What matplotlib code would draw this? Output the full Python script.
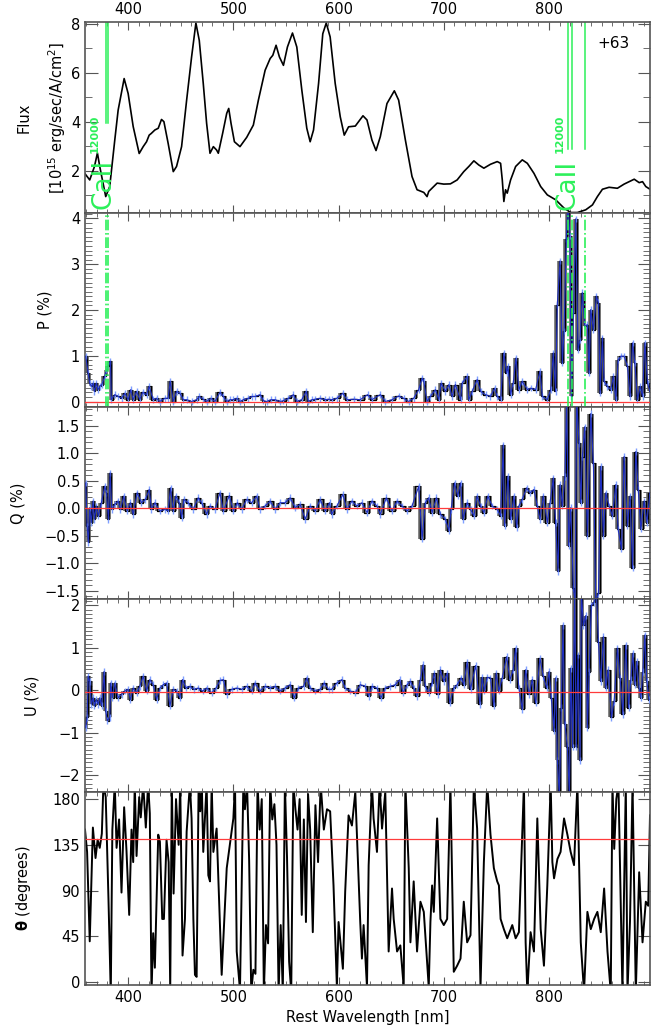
import matplotlib
matplotlib.use("Agg")
import matplotlib.pyplot as plt
import numpy as np
from matplotlib.ticker import MultipleLocator, FuncFormatter

plt.rcParams['font.family'] = ['DejaVu Sans']
plt.rcParams['mathtext.fontset'] = 'dejavusans'

# ---- data ----
flux_wl = [358.7, 363.5, 368, 370.8, 373, 378.7, 382.5, 387.3, 390.5, 396.2, 400, 404.8, 410.5, 414.3,
           417.5, 420, 422, 425.4, 428.6, 431.7, 434, 438, 442.9, 446, 450.8, 455.6, 460.3, 464.4, 467.6,
           471.4, 474.6, 477.8, 481, 484.1, 485.7, 489.8, 493.7, 495.6, 497.8, 501, 506.3, 512.7, 519,
           523.8, 530.2, 535, 537.5, 540.6, 543.8, 547.6, 551.4, 556.2, 560.3, 565.1, 569.8, 573, 576.2,
           581, 585, 588.3, 592, 596.8, 601.6, 605.4, 609.5, 615.9, 623.2, 627, 631.7, 635.6, 639.7, 646,
           653, 657.1, 663.5, 669.8, 674.6, 681, 684.1, 685.7, 693.7, 700, 706.3, 712.7, 719, 723.8, 728.6,
           733.3, 738.1, 744.4, 750.8, 754, 755.6, 757.1, 758.7, 760.3, 763.5, 768.3, 774.6, 779.4, 785.7,
           792.1, 798.4, 806.3, 814.3, 820.6, 827, 834.9, 841.3, 846, 850.8, 857.1, 865, 871.4, 876.2, 881,
           885.7, 888.9, 892, 896]
flux_val = [1.89, 1.62, 2.17, 2.72, 2.17, 0.94, 1.35, 3.25, 4.47, 5.76, 5.15, 3.8, 2.7, 2.98, 3.18, 3.45,
            3.52, 3.66, 3.73, 4.09, 4.0, 3.12, 1.96, 2.17, 2.98, 4.88, 6.64, 8.03, 7.32, 5.56, 3.93, 2.71,
            2.98, 2.84, 2.71, 3.52, 4.34, 4.54, 3.93, 3.18, 2.98, 3.36, 3.86, 4.88, 6.1, 6.58, 6.71, 7.12,
            6.64, 6.3, 7.05, 7.62, 7.05, 5.28, 3.73, 3.18, 3.66, 5.56, 7.59, 8.03, 7.46, 5.56, 4.2, 3.45,
            3.79, 3.82, 4.24, 4.07, 3.25, 2.82, 3.39, 4.74, 5.26, 4.88, 3.25, 1.76, 1.22, 1.11, 0.94, 1.15,
            1.49, 1.45, 1.46, 1.62, 1.96, 2.17, 2.4, 2.23, 2.1, 2.26, 2.37, 2.3, 1.62, 0.74, 1.22, 1.08,
            1.62, 2.17, 2.44, 2.3, 1.89, 1.35, 1.01, 0.81, 0.47, 0.29, 0.29, 0.4, 0.6, 0.94, 1.24, 1.32,
            1.28, 1.45, 1.55, 1.65, 1.51, 1.55, 1.35, 1.24]

p_wl = [359.7, 362, 363.5, 365, 366.7, 368, 369.8, 371.4, 373, 375, 377.8, 379.4, 381, 383.2, 384, 387.3,
        390.5, 393.7, 396.8, 400, 402.5, 404.8, 408, 411, 413.7, 417.5, 420, 423.8, 427, 430, 435, 438,
        440, 442.9, 446, 449.2, 452.4, 455.6, 460.3, 465, 467.6, 471.4, 474.6, 478.4, 482.5, 487.3, 490.5,
        493.7, 496.8, 500, 503.2, 506.3, 509.5, 514.3, 517.5, 520.6, 525.4, 528.6, 531.7, 535.6, 539.7,
        544.4, 547.6, 552.4, 557.1, 560.3, 565, 569.2, 571.4, 574.6, 577.8, 582.5, 587.3, 590.5, 593.5,
        598.4, 604.1, 607.9, 614.3, 620.6, 627.6, 631.7, 639.7, 644.4, 650.8, 657.1, 661.9, 666.7, 671.4,
        676.2, 679.4, 681, 684.1, 687.3, 692, 695.2, 697.5, 701.6, 704.8, 708, 711, 715.9, 717.5, 722.2,
        723.8, 727, 731.7, 735, 739.7, 744.4, 748.3, 750.8, 754, 757.1, 759.7, 761, 763.5, 766, 768.6,
        771.4, 774.6, 779.4, 782.5, 787.3, 791.4, 793.7, 798.4, 801.6, 804.1, 806.3, 807.9, 810.5, 812.7,
        814.3, 816.5, 818.1, 819.8, 821.3, 823.2, 825.4, 827.6, 829.5, 831.7, 834, 836.5, 838.1, 839.7,
        842.2, 845.1, 847, 848.6, 850.8, 852.4, 855.6, 858.7, 861.3, 863.5, 865.7, 868.3, 871.4, 874.6,
        877.1, 879.4, 881.6, 884.1, 886.7, 888.9, 891.1, 893.7, 896]
p_val = [0.99, 0.62, 0.4, 0.33, 0.4, 0.22, 0.4, 0.26, 0.33, 0.37, 0.55, 0.69, 0.77, 0.88, 0.04, 0.15,
         0.11, 0.07, 0.18, 0.04, 0.26, 0.04, 0.22, 0.04, 0.2, 0.15, 0.33, 0.04, 0.07, 0.0, 0.07, 0.07,
         0.44, 0.0, 0.22, 0.18, 0.04, 0.04, 0.0, 0.04, 0.11, 0.05, 0.0, 0.07, 0.0, 0.2, 0.11, 0.0, 0.04,
         0.04, 0.07, 0.0, 0.04, 0.07, 0.11, 0.11, 0.15, 0.02, 0.0, 0.04, 0.04, 0.0, 0.02, 0.07, 0.15, 0.0,
         0.04, 0.22, 0.0, 0.04, 0.05, 0.07, 0.04, 0.05, 0.04, 0.07, 0.18, 0.04, 0.05, 0.04, 0.15, 0.04,
         0.15, 0.0, 0.04, 0.12, 0.07, 0.0, 0.07, 0.26, 0.51, 0.44, 0.0, 0.11, 0.26, 0.04, 0.4, 0.22, 0.37,
         0.11, 0.37, 0.04, 0.4, 0.55, 0.04, 0.22, 0.48, 0.22, 0.15, 0.11, 0.29, 0.11, 0.04, 1.06, 0.62,
         0.77, 0.15, 0.4, 0.95, 0.26, 0.44, 0.26, 0.29, 0.26, 0.66, 0.11, 0.04, 0.26, 1.06, 0.22, 2.12,
         3.07, 0.84, 1.54, 3.55, 4.4, 3.62, 0.11, 1.94, 3.99, 1.13, 1.35, 2.38, 1.65, 1.68, 0.62, 2.01,
         1.57, 2.3, 2.16, 0.18, 1.39, 0.44, 0.33, 0.26, 0.55, 0.04, 0.91, 0.99, 0.99, 0.77, 0.11, 1.28,
         0.84, 0.04, 0.33, 0.11, 1.28, 0.4, 0.22]

q_wl = [359.7, 361, 362.2, 363.5, 365, 366.7, 368, 369.8, 371.7, 374.6, 377.8, 379.4, 381.3, 382.9, 384.4,
        387.3, 390.5, 392.7, 395.9, 399, 402.2, 404.8, 408.6, 412.7, 416.5, 420, 422.2, 425.4, 430.2, 435,
        438, 440.3, 442.9, 445.4, 448.6, 450.8, 453, 457.1, 461.9, 466.7, 469.8, 474.6, 477.8, 482.5,
        487.3, 490.5, 496.2, 500, 503.8, 507.9, 512.7, 517.5, 522.2, 525.4, 530.2, 535, 539.7, 544.4,
        549.2, 554, 558.7, 563.5, 568.3, 573, 577.8, 582.5, 587.3, 591.4, 593.4, 598.4, 604.1, 607.9,
        612.7, 617.5, 622.2, 627, 631.7, 636.5, 639.7, 645.4, 650.8, 655.6, 660.3, 665.1, 669.8, 676.2,
        679.4, 682.5, 685.7, 688.9, 693, 696.8, 701.6, 704.8, 707, 710.2, 713.3, 715.9, 718.4, 722.2,
        725.4, 728.6, 731.7, 735, 738.1, 741.9, 746, 750.8, 754, 756.5, 757.8, 761, 763.5, 766.7, 769.2,
        771.4, 774.6, 778.7, 781.9, 785.7, 788.9, 791.4, 794.6, 798.4, 801, 804.1, 806.3, 808.6, 810.5,
        812.7, 815.2, 816.8, 818.7, 820.6, 823.2, 824.8, 826.3, 828.6, 830.2, 831.7, 834, 836.5, 839.7,
        842.2, 844.4, 847, 849.2, 851.7, 854, 857.1, 860.3, 863.5, 865.7, 868.9, 871.4, 874.6, 877.1,
        879.4, 882.5, 884.8, 887.3, 890.5, 893, 896]
q_val = [0.46, -0.32, -0.62, 0.01, -0.26, 0.13, -0.2, 0.04, -0.14, 0.1, 0.4, 0.28, -0.2, 0.64, -0.02,
         0.07, 0.13, -0.02, 0.22, -0.05, 0.1, -0.11, 0.28, 0.1, 0.16, 0.34, -0.02, 0.1, -0.05, -0.02,
         -0.05, 0.37, -0.05, 0.22, 0.1, -0.17, 0.16, 0.1, -0.02, 0.19, 0.1, -0.11, 0.04, -0.02, 0.28,
         -0.05, 0.23, -0.05, 0.1, -0.02, 0.16, 0.1, 0.22, -0.02, 0.04, 0.13, -0.02, 0.1, 0.1, 0.19, 0.01,
         0.07, -0.2, 0.04, -0.05, 0.16, -0.05, 0.1, -0.11, 0.04, 0.25, -0.02, 0.13, 0.04, 0.1, -0.08,
         0.13, 0.04, -0.11, 0.19, -0.05, 0.13, 0.04, -0.05, 0.04, 0.4, -0.56, 0.1, 0.19, -0.08, 0.19,
         -0.11, -0.2, -0.41, -0.02, 0.46, 0.22, 0.46, -0.2, 0.1, -0.02, -0.14, 0.22, 0.04, -0.08, 0.22,
         0.04, -0.02, -0.14, 1.15, -0.32, 0.58, -0.2, 0.22, -0.35, 0.04, 0.16, 0.37, 0.28, 0.34, 0.04,
         -0.2, 0.22, -0.26, 0.1, 0.55, -0.26, -1.15, 0.43, 0.04, 0.58, 1.95, -0.68, 0.01, -1.45, -1.7,
         1.95, 1.18, 0.1, 0.94, 1.48, -0.5, 1.72, 0.82, -1.7, -1.55, 0.76, -0.5, 0.28, 0.04, -0.14, 0.43,
         -0.38, -0.74, 0.94, -0.32, 0.22, -1.09, 1.03, 0.34, -0.38, 0.13, -0.26, 0.28]

u_wl = [359.7, 361, 362, 363.5, 365, 366.7, 368, 369.8, 371.4, 373, 374.9, 377.1, 378.7, 380.3, 382.5,
        383.5, 385, 387.3, 390.5, 393.7, 396.8, 400, 402.2, 404.8, 408, 411, 414.3, 417.5, 420.6, 423.8,
        427, 430.2, 433.3, 436.5, 439.7, 442.9, 446, 449.2, 451.7, 454.9, 458.7, 462.5, 466.7, 470.8,
        474.6, 479.4, 483.5, 487.3, 490.5, 493.7, 498.4, 503.2, 507.9, 512.7, 517.5, 520.6, 525.4, 530.2,
        535, 539.7, 544.4, 549.2, 554, 557.8, 561.9, 566.7, 569.8, 573, 577.8, 582.5, 586.3, 590.5, 593.4,
        598.4, 603.2, 606.3, 611.1, 615.9, 620.6, 625.4, 628.6, 631.7, 636.5, 640.3, 644.4, 649.2, 654,
        658.1, 661.3, 665.1, 668.3, 671.4, 674.6, 677.8, 680.3, 682.5, 685.7, 688.9, 691.1, 694.3, 696.8,
        700, 703.2, 705.7, 709.5, 712.7, 716.5, 719, 722.2, 725.4, 730.2, 734.3, 736.5, 738.7, 741.3,
        744.4, 747.6, 749.8, 752.4, 755.6, 759.7, 762.9, 766, 768.3, 771.4, 774.6, 777.8, 781, 784.1,
        787.3, 791.4, 794.6, 797.8, 800, 802.2, 804.8, 806.3, 808, 809.8, 811.7, 813.3, 815.2, 817.5,
        819.4, 820.6, 822.5, 824.4, 826, 827.6, 829.5, 830.8, 832.7, 835, 836.5, 838.1, 840.3, 842.9,
        845.1, 847, 849.2, 851.7, 854, 856.2, 859.4, 861.9, 865.1, 867.6, 870.2, 873, 875.6, 877.8, 879.7,
        881.6, 883.5, 885.7, 887.3, 889.2, 891.1, 893, 895.2]
u_val = [-0.88, -0.64, 0.33, 0.21, -0.33, -0.18, -0.37, -0.22, -0.33, -0.18, -0.37, 0.44, -0.49, -0.72,
         -0.64, 0.17, -0.18, 0.17, -0.18, -0.1, -0.02, 0.02, -0.22, 0.05, -0.06, 0.09, 0.33, -0.02, 0.25,
         0.13, -0.22, 0.05, 0.13, 0.17, -0.37, 0.02, -0.02, -0.18, 0.25, 0.05, 0.09, 0.02, 0.05, -0.02,
         0.05, -0.06, 0.05, 0.23, 0.25, -0.1, 0.02, 0.05, 0.02, 0.09, -0.02, 0.17, -0.02, 0.09, 0.05,
         0.09, -0.02, 0.05, 0.13, -0.18, 0.05, 0.09, 0.29, 0.05, -0.02, 0.02, 0.17, 0.02, 0.02, 0.17,
         0.25, 0.05, -0.02, -0.06, 0.13, 0.09, -0.14, 0.09, 0.05, -0.18, 0.05, 0.09, 0.13, 0.25, -0.06,
         0.13, 0.21, 0.05, -0.14, 0.25, 0.6, 0.09, -0.06, 0.17, 0.4, -0.1, 0.48, 0.21, 0.4, -0.3, 0.05,
         0.13, 0.29, 0.13, 0.66, 0.02, 0.58, -0.33, 0.3, -0.02, 0.3, 0.29, -0.37, 0.4, -0.02, 0.29, 0.79,
         0.25, 0.48, 0.99, 0.05, -0.45, 0.48, -0.1, 0.25, -0.3, 0.75, 0.33, 0.05, 0.44, -0.18, -0.96,
         0.29, -1.65, -2.5, -0.41, 1.53, -0.8, -1.34, -2.5, 0.52, -1.34, 2.3, -1.34, 0.83, -1.65, 2.3,
         1.53, 1.76, -0.88, 0.44, 2.0, 2.07, 2.3, 1.14, 0.21, 1.26, 0.05, 0.48, -0.64, -0.26, 0.99, 0.29,
         -0.57, 1.06, -0.41, 0.25, 0.87, 0.13, 0.68, 0.05, -0.18, 0.44, 1.3, 0.21, -0.22]

th_wl = [359, 361, 363.5, 366.5, 369, 371, 373, 375, 376.5, 378.7, 381.3, 383.5, 385, 387.3, 389, 391.4,
         393.7, 396.2, 398.4, 401, 403.2, 404.8, 406.3, 408, 410.5, 412, 414.3, 416.8, 419, 420.6, 422.2,
         423.8, 425.4, 428.6, 430.2, 432.4, 434, 436.5, 438.5, 440, 441.5, 443.2, 445.5, 448, 449.5,
         451.7, 454, 455.6, 458.7, 460.3, 462, 463.5, 465.1, 467, 468.5, 470, 471.4, 474.6, 476.2, 477.8,
         479.4, 481, 484.1, 488.9, 493.7, 500, 501.6, 503.2, 506.3, 508, 509.5, 511, 513, 515, 517, 519,
         521, 523, 525, 527, 529, 531, 533, 535, 537, 539, 541, 543, 545, 547, 549, 551, 553, 555, 557,
         559, 561, 563, 565, 567, 569, 571, 573, 575.5, 578, 580.5, 583, 586, 589, 592, 595.2, 598.4, 600,
         604.1, 606.3, 609.5, 612.7, 615.9, 620.6, 622.2, 623.8, 627, 628.6, 631.7, 633.3, 636.5, 639,
         641.3, 644.4, 647.6, 650.8, 652.4, 655.6, 658.7, 661.9, 663.5, 666.7, 668.3, 671.4, 674.6, 677.8,
         681, 684.1, 685.7, 687.3, 688.9, 690.5, 693.7, 696.8, 700, 703.2, 706.3, 709.5, 712.7, 715.9,
         719, 722.2, 725.4, 728.6, 731.7, 734.9, 738.1, 741.3, 744.4, 747.6, 750.8, 752.4, 754, 757.1,
         760.3, 765.1, 768.3, 771.4, 774.6, 776.2, 777.8, 779.4, 782.5, 785.7, 788.9, 792.1, 795.2, 798.4,
         801.6, 803.2, 804.8, 808, 811, 814.3, 817.5, 820.6, 823.8, 827, 830.2, 833.3, 836.5, 839.7,
         842.9, 846, 849.2, 852.4, 855.6, 858.7, 860.3, 862, 864, 866, 869.8, 873, 874.6, 877, 879.4,
         882.5, 885.7, 888.9, 892, 894.3, 896]
th_val = [150, 128, 40, 152, 122, 140, 132, 146, 195, 182, 82, -12, 150, 195, 132, 160, 88, 172, 130, 66,
          150, 118, 195, 124, 182, 162, 195, 152, 195, 166, -12, 48, 14, 145, 138, 62, 62, 140, 118, -8,
          195, 87, 180, 135, 195, 26, 62, 148, 195, 161, 62, 7, 5, 195, 168, 195, 128, 195, 105, 99, 195,
          128, 151, 7, 112, 161, 195, 30, -8, 100, 195, 170, 195, 120, -10, 12, 8, 195, 150, 180, -10, 56,
          38, 195, 160, 175, 135, -10, 56, -10, 195, 123, 20, -10, 195, 170, 150, 180, 66, 160, 59, 185,
          150, 49, 174, 118, 195, 150, 170, 168, 95, -5, 59, 13, 89, 164, 154, 187, 59, 23, 56, -5, 115,
          195, 161, 128, 195, 151, 187, 30, 92, 62, 30, 36, -5, 195, 112, 39, 99, 30, 79, 69, 20, -5, 59,
          95, 69, 161, 62, 56, 62, 195, 10, 16, 23, 79, 39, 46, 195, 151, -5, 118, 195, 145, 112, 99, 95,
          62, 52, 43, 56, 43, 49, 148, 195, 39, -10, 49, 30, 161, 52, 16, 95, 195, 118, 102, 121, 128,
          161, 145, 128, 115, 195, 39, -10, 69, 52, 62, 69, 49, 92, 30, -10, 195, 131, 180, 195, -10, 195,
          -10, 60, 195, -10, 108, 39, 79, 75, 164]

p_err = 0.07
q_err = 0.06
u_err = 0.08
p_ref, q_ref, u_ref, th_ref = 0.0, 0.0, -0.05, 141.0

ca_hk = [378.7, 381.0]
ca_ir = [818.1, 821.6, 834.0]

# ---- layout ----
W, H = 658, 1035
fig = plt.figure(figsize=(W / 100, H / 100), dpi=100)
edges = [22, 213, 407, 599, 792, 985]
axes = []
for i in range(5):
    axes.append(fig.add_axes([85 / W, 1 - edges[i + 1] / H, 565 / W, (edges[i + 1] - edges[i]) / H]))
ax_f, ax_p, ax_q, ax_u, ax_t = axes

green = '#2cf05a'
frame = '#555555'
minus = FuncFormatter(lambda v, p: ('%g' % v).replace('-', '\u2212'))
minus1 = FuncFormatter(lambda v, p: ('%.1f' % v).replace('-', '\u2212'))

for ax in axes:
    ax.set_xlim(359, 896)
    ax.xaxis.set_major_locator(MultipleLocator(100))
    ax.xaxis.set_minor_locator(MultipleLocator(10))
    ax.tick_params(which='both', direction='in', top=True, right=True, color=frame,
                   labelsize=10.5, labelbottom=False)
    ax.tick_params(axis='x', which='major', length=6)
    ax.tick_params(axis='x', which='minor', length=3)
    ax.tick_params(axis='y', which='major', length=9)
    ax.tick_params(axis='y', which='minor', length=5)
    for s in ax.spines.values():
        s.set_color(frame)
        s.set_linewidth(1.2)

# flux
ax_f.plot(flux_wl, flux_val, color='black', lw=1.2)
ax_f.set_ylim(0.27, 8.07)
ax_f.yaxis.set_major_locator(MultipleLocator(2))
ax_f.yaxis.set_minor_locator(MultipleLocator(1))
ax_f.tick_params(labeltop=True)
for w in ca_hk:
    ax_f.plot([w, w], [3.93, 8.07], color=green, lw=1.1)
for w in ca_ir:
    ax_f.plot([w, w], [2.88, 8.07], color=green, lw=1.1)
ax_f.text(368.3, 3.5, '12000', color=green, rotation=90, ha='center', va='center',
          fontsize=8, fontweight='bold')
ax_f.text(376.5, 1.45, 'CaII', color=green, rotation=90, ha='center', va='center', fontsize=19)
ax_f.text(810.2, 3.5, '12000', color=green, rotation=90, ha='center', va='center',
          fontsize=8, fontweight='bold')
ax_f.text(818.0, 1.4, 'CaII', color=green, rotation=90, ha='center', va='center', fontsize=19)
ax_f.text(861, 7.2, '+63', fontsize=11, ha='center', va='center')
ax_f.text(-0.108, 0.5, 'Flux', transform=ax_f.transAxes, rotation=90, ha='center', va='center',
          fontsize=10.5)
ax_f.text(-0.05, 0.5, r'[10$^{15}$ erg/sec/A/cm$^{2}$]', transform=ax_f.transAxes, rotation=90,
          ha='center', va='center', fontsize=10.5)


def pol_panel(ax, wl, val, err, ref):
    wl = np.array(wl)
    val = np.array(val)
    mids = (wl[:-1] + wl[1:]) / 2
    ax.vlines(mids, np.minimum(val[:-1], val[1:]), np.maximum(val[:-1], val[1:]),
              color='#6a6a6a', lw=2.6, zorder=2)
    ax.step(wl, val, where='mid', color='black', lw=0.9, zorder=3)
    ax.errorbar(wl, val, yerr=err, fmt='none', ecolor='#7f9fff', elinewidth=1.0, zorder=4)
    ax.plot(wl, val, color='#1f2fc0', lw=0.8, zorder=5)
    ax.axhline(ref, color='#ff3b3b', lw=0.9, zorder=6)


pol_panel(ax_p, p_wl, p_val, p_err, p_ref)
ax_p.set_ylim(-0.12, 4.12)
ax_p.yaxis.set_major_locator(MultipleLocator(1))
ax_p.yaxis.set_minor_locator(MultipleLocator(0.1))
ax_p.set_ylabel('P (%)', fontsize=10.5)
ax_p.yaxis.set_label_coords(-0.058, 0.5)
for w in ca_hk + ca_ir:
    ax_p.axvline(w, color=green, lw=1.2, ls='-.', zorder=7)

pol_panel(ax_q, q_wl, q_val, q_err, q_ref)
ax_q.set_ylim(-1.65, 1.84)
ax_q.yaxis.set_major_locator(MultipleLocator(0.5))
ax_q.yaxis.set_minor_locator(MultipleLocator(0.1))
ax_q.yaxis.set_major_formatter(minus1)
ax_q.set_ylabel('Q (%)', fontsize=10.5)
ax_q.yaxis.set_label_coords(-0.106, 0.5)

pol_panel(ax_u, u_wl, u_val, u_err, u_ref)
ax_u.set_ylim(-2.4, 2.15)
ax_u.yaxis.set_major_locator(MultipleLocator(1))
ax_u.yaxis.set_minor_locator(MultipleLocator(0.1))
ax_u.yaxis.set_major_formatter(minus)
ax_u.set_ylabel('U (%)', fontsize=10.5)
ax_u.yaxis.set_label_coords(-0.08, 0.5)

# position angle
ax_t.plot(th_wl, th_val, color='black', lw=1.4)
ax_t.axhline(th_ref, color='#ff3b3b', lw=0.9)
ax_t.set_ylim(-3, 187)
ax_t.set_yticks([0, 45, 90, 135, 180])
ax_t.tick_params(labelbottom=True)
ax_t.set_ylabel(r'$\mathbf{\theta}$ (degrees)', fontsize=10.5)
ax_t.yaxis.set_label_coords(-0.092, 0.5)
ax_t.set_xlabel('Rest Wavelength [nm]', fontsize=10.5)

fig.savefig('out.png', dpi=100)
